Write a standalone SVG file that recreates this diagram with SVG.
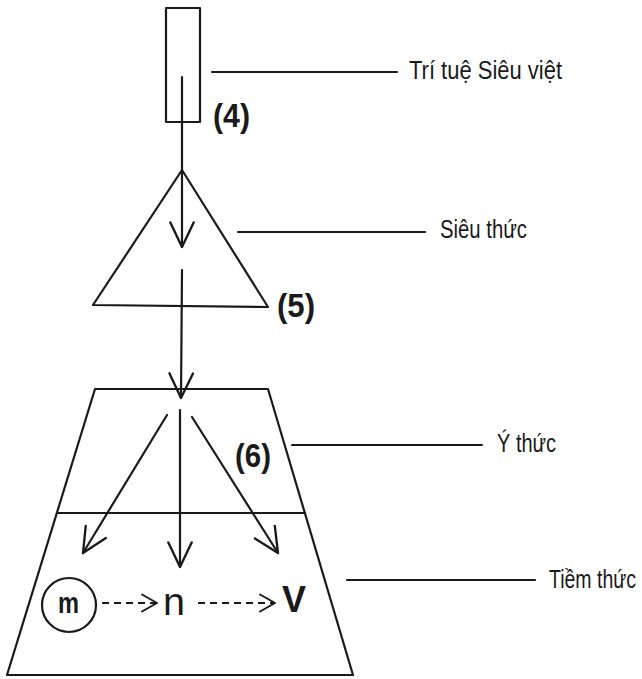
<svg xmlns="http://www.w3.org/2000/svg" width="642" height="679" viewBox="0 0 642 679">
<defs>
<style>
.ln{stroke:#1a1a1a;stroke-width:2.2;fill:none;stroke-linecap:round;stroke-linejoin:round}
.lbl{font-family:"Liberation Sans Narrow","Liberation Sans",Arial,sans-serif;font-size:25px;fill:#1a1a1a}
.num{font-family:"Liberation Sans Narrow","Liberation Sans",Arial,sans-serif;font-size:33px;font-weight:bold;fill:#1a1a1a}
.dash{stroke:#1a1a1a;stroke-width:2;fill:none;stroke-dasharray:7 5}
</style>
<marker id="ah" markerUnits="userSpaceOnUse" markerWidth="30" markerHeight="30" viewBox="-26 -13 28 26" refX="0" refY="0" orient="auto">
<path d="M-23,-11 L0,0 L-23,11" fill="none" stroke="#1a1a1a" stroke-width="2.2" stroke-linecap="round" stroke-linejoin="round"/>
</marker>
<marker id="ahs" markerUnits="userSpaceOnUse" markerWidth="20" markerHeight="20" viewBox="-17 -10 19 20" refX="0" refY="0" orient="auto">
<path d="M-15,-8.5 L0,0 L-15,8.5" fill="none" stroke="#1a1a1a" stroke-width="2" stroke-linecap="round" stroke-linejoin="round"/>
</marker>
</defs>
<rect width="642" height="679" fill="#ffffff"/>

<g id="node-tri-tue">
<rect x="166" y="8" width="34" height="114" class="ln"/>
<text class="num" x="213" y="127" textLength="37" lengthAdjust="spacingAndGlyphs">(4)</text>
<line x1="212" y1="72" x2="397" y2="72" class="ln"/>
<text class="lbl" x="409" y="79" textLength="153" lengthAdjust="spacingAndGlyphs">Trí tuệ Siêu việt</text>
</g>

<g id="node-sieu-thuc">
<polygon points="182,170 268,307 93,305" class="ln"/>
<text class="num" x="277" y="317" textLength="38" lengthAdjust="spacingAndGlyphs">(5)</text>
<line x1="238" y1="232" x2="425" y2="232" class="ln"/>
<text class="lbl" x="440" y="238" textLength="87" lengthAdjust="spacingAndGlyphs">Siêu thức</text>
</g>

<g id="node-y-thuc">
<polygon points="95,389 268,389 353,675 7,675" class="ln"/>
<line x1="57" y1="513" x2="305" y2="513" class="ln"/>
<text class="num" x="235" y="467" textLength="36" lengthAdjust="spacingAndGlyphs">(6)</text>
<line x1="292" y1="445" x2="482" y2="445" class="ln"/>
<text class="lbl" x="497" y="452" textLength="59" lengthAdjust="spacingAndGlyphs">Ý thức</text>
</g>

<g id="node-tiem-thuc">
<line x1="347" y1="580" x2="535" y2="580" class="ln"/>
<text class="lbl" transform="translate(549,588) scale(0.78,1)" x="0" y="0">Tiềm thức</text>
</g>

<g id="node-m">
<circle cx="69" cy="605" r="27" class="ln"/>
<text x="58" y="613" font-family="'Liberation Sans Narrow','Liberation Sans',Arial,sans-serif" font-size="29" font-weight="bold" fill="#1a1a1a" textLength="21" lengthAdjust="spacingAndGlyphs">m</text>
</g>
<g id="node-n">
<text x="163" y="615" font-family="'Liberation Sans',Arial,sans-serif" font-size="39" fill="#1a1a1a" textLength="22" lengthAdjust="spacingAndGlyphs">n</text>
</g>
<g id="node-v">
<text x="282" y="612" font-family="'Liberation Sans',Arial,sans-serif" font-size="37" font-weight="bold" fill="#1a1a1a" textLength="24" lengthAdjust="spacingAndGlyphs">V</text>
</g>

<g id="connectors">
<line x1="182" y1="77" x2="182" y2="247" class="ln" marker-end="url(#ah)"/>
<line x1="182" y1="270" x2="181" y2="398" class="ln" marker-end="url(#ah)"/>
<line x1="167" y1="415" x2="83" y2="553" class="ln" marker-end="url(#ah)"/>
<line x1="180" y1="410" x2="180" y2="567" class="ln" marker-end="url(#ah)"/>
<line x1="192" y1="417" x2="278" y2="553" class="ln" marker-end="url(#ah)"/>
<line x1="102" y1="603" x2="157" y2="603" class="dash" marker-end="url(#ahs)"/>
<line x1="198" y1="603" x2="275" y2="603" class="dash" marker-end="url(#ahs)"/>
</g>
</svg>
